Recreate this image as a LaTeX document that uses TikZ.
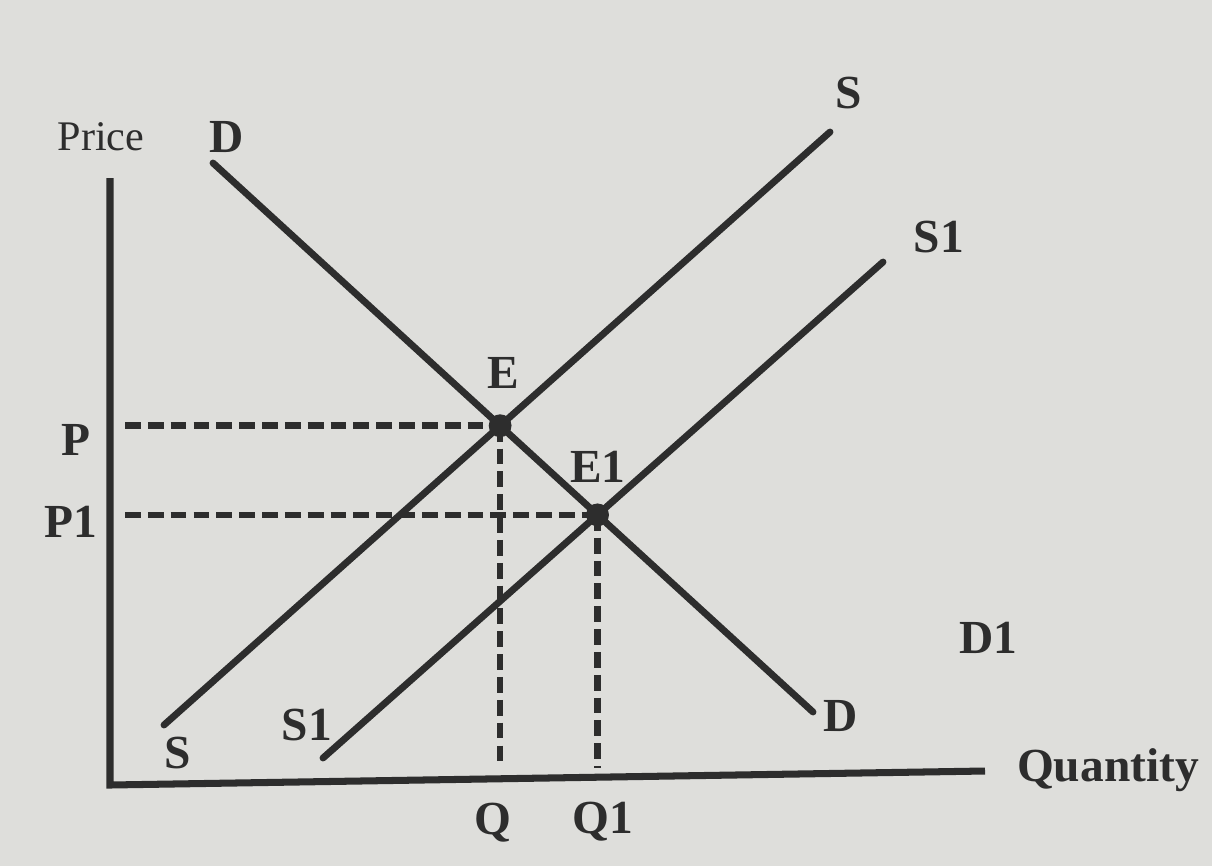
\documentclass[tikz,border=0pt]{standalone}
\usepackage{fontspec}
\setmainfont{Liberation Serif}
\usepackage{tikz}
\definecolor{paper}{RGB}{222,222,219}
\definecolor{ink}{RGB}{45,45,45}
\tikzset{
  curve/.style={ink, line width=3.9pt, line cap=round},
  axisline/.style={ink, line width=4pt},
  guide/.style={ink, line width=3.7pt, dash pattern=on 9pt off 4pt},
  lbl/.style={ink, font=\fontsize{27}{31}\selectfont\bfseries},
  axlbl/.style={ink, font=\fontsize{24}{28}\selectfont},
}

\begin{document}
\begin{tikzpicture}[x=0.02cm,y=-0.02cm]
    \fill[paper] (0,0) rectangle (1212,866);
    \useasboundingbox (0,0) rectangle (1212,866);
    % axes
    \coordinate (origin) at (110,785);
    \coordinate (ytop) at (110,178);
    \coordinate (xend) at (985,771);
    \draw[axisline] (ytop) -- (origin) -- (xend);
    \node[axlbl] (price) at (101,137) {Price};
    \node[lbl] (quantity) at (1108,770) {Quantity};
    % demand and the two supply lines
    \coordinate (d0) at (213,163);
    \coordinate (d1) at (813,712);
    \coordinate (s0) at (164,725);
    \coordinate (s1) at (830,132);
    \coordinate (t0) at (323,758);
    \coordinate (t1) at (883,262);
    \draw[curve] (d0) -- (d1);
    \draw[curve] (s0) -- (s1);
    \draw[curve] (t0) -- (t1);
    \coordinate (E) at (intersection of d0--d1 and s0--s1);
    \coordinate (E1) at (intersection of d0--d1 and t0--t1);
    % guides to the axes
    \coordinate (pstart) at (125,0);
    \coordinate (qbase) at (0,768);
    \draw[guide] (E -| pstart) -- (E);
    \draw[guide] (E1 -| pstart) -- (E1);
    \draw[guide] (E) -- (E |- qbase);
    \draw[guide] (E1) -- (E1 |- qbase);
    \fill[ink] (E) circle (6.5pt);
    \fill[ink] (E1) circle (6.5pt);
    % labels
    \node[lbl] (labE) at (503,373) {E};
    \node[lbl] (labE1) at (598,467) {E1};
    \node[lbl] (labP) at (76,440) {P};
    \node[lbl] (labP1) at (71,522) {P1};
    \node[lbl] (labQ) at (493,823) {Q};
    \node[lbl] (labQ1) at (603,822) {Q1};
    \node[lbl] (labDtop) at (227,137) {D};
    \node[lbl] (labDbot) at (841,716) {D};
    \node[lbl] (labD1) at (988,638) {D1};
    \node[lbl] (labStop) at (849,93) {S};
    \node[lbl] (labSbot) at (178,753) {S};
    \node[lbl] (labS1top) at (939,237) {S1};
    \node[lbl] (labS1bot) at (307,725) {S1};
\end{tikzpicture}
\end{document}
